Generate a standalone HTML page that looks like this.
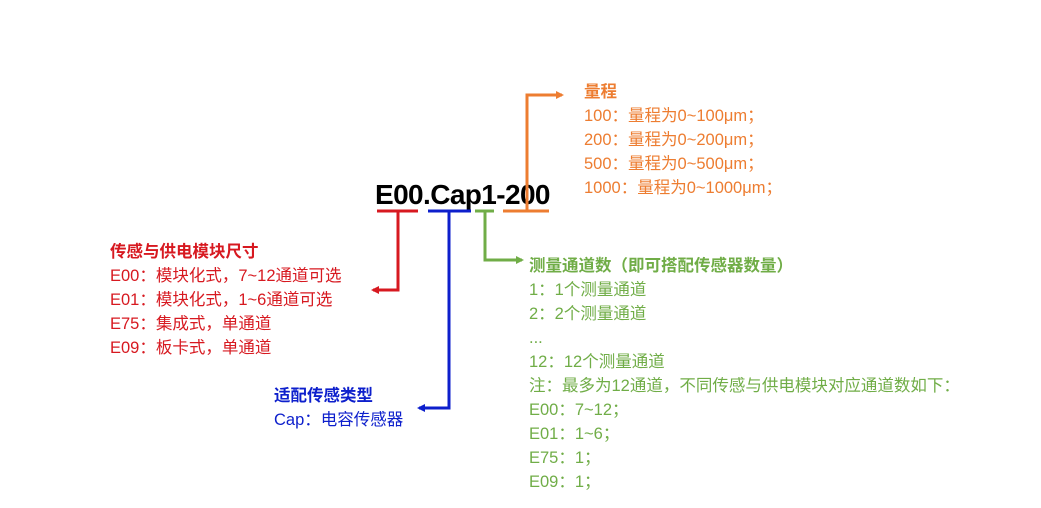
<!DOCTYPE html>
<html><head><meta charset="utf-8"><style>
body{margin:0;width:1041px;height:508px;background:#fff;position:relative;overflow:hidden;font-family:"Liberation Sans","Noto Sans CJK SC",sans-serif}
.t{position:absolute;font-size:16.5px;line-height:24px;white-space:nowrap}
.t b{font-weight:bold}
</style></head><body>
<div style="position:absolute;left:375px;top:178px;font-size:28px;font-weight:bold;line-height:34px;color:#000;letter-spacing:-0.6px">E00.Cap1-200</div>
<svg width="1041" height="508" style="position:absolute;left:0;top:0">
<defs>
<marker id="ar" markerWidth="8" markerHeight="8" refX="6" refY="4" orient="auto" markerUnits="userSpaceOnUse"><path d="M0,0 L8,4 L0,8 Z" fill="#d71920"/></marker>
<marker id="ab" markerWidth="8" markerHeight="8" refX="6" refY="4" orient="auto" markerUnits="userSpaceOnUse"><path d="M0,0 L8,4 L0,8 Z" fill="#0d1fcc"/></marker>
<marker id="ag" markerWidth="8" markerHeight="8" refX="6" refY="4" orient="auto" markerUnits="userSpaceOnUse"><path d="M0,0 L8,4 L0,8 Z" fill="#70ad47"/></marker>
<marker id="ao" markerWidth="8" markerHeight="8" refX="6" refY="4" orient="auto" markerUnits="userSpaceOnUse"><path d="M0,0 L8,4 L0,8 Z" fill="#ed7d31"/></marker>
</defs>
<line x1="377" y1="211" x2="418" y2="211" stroke="#d71920" stroke-width="3"/>
<polyline points="398,211 398,290 373,290" fill="none" stroke="#d71920" stroke-width="3" marker-end="url(#ar)"/>
<line x1="428" y1="211" x2="471" y2="211" stroke="#0d1fcc" stroke-width="3"/>
<polyline points="449,211 449,408 419,408" fill="none" stroke="#0d1fcc" stroke-width="3" marker-end="url(#ab)"/>
<line x1="475" y1="211" x2="494" y2="211" stroke="#70ad47" stroke-width="3"/>
<polyline points="485,211 485,260 522,260" fill="none" stroke="#70ad47" stroke-width="3" marker-end="url(#ag)"/>
<line x1="503" y1="211" x2="549" y2="211" stroke="#ed7d31" stroke-width="3"/>
<polyline points="527,211 527,95 562,95" fill="none" stroke="#ed7d31" stroke-width="3" marker-end="url(#ao)"/>
</svg>
<div class="t" style="left:584px;top:80px;color:#ed7d31"><b>量程</b><br>100：量程为0~100μm；<br>200：量程为0~200μm；<br>500：量程为0~500μm；<br>1000：量程为0~1000μm；</div>
<div class="t" style="left:110px;top:240px;color:#d71920"><b>传感与供电模块尺寸</b><br>E00：模块化式，7~12通道可选<br>E01：模块化式，1~6通道可选<br>E75：集成式，单通道<br>E09：板卡式，单通道</div>
<div class="t" style="left:274px;top:384px;color:#0d1fcc"><b>适配传感类型</b><br>Cap：电容传感器</div>
<div class="t" style="left:529px;top:254px;color:#70ad47"><b>测量通道数（即可搭配传感器数量）</b><br>1：1个测量通道<br>2：2个测量通道<br>...<br>12：12个测量通道<br>注：最多为12通道，不同传感与供电模块对应通道数如下：<br>E00：7~12；<br>E01：1~6；<br>E75：1；<br>E09：1；</div>
</body></html>
